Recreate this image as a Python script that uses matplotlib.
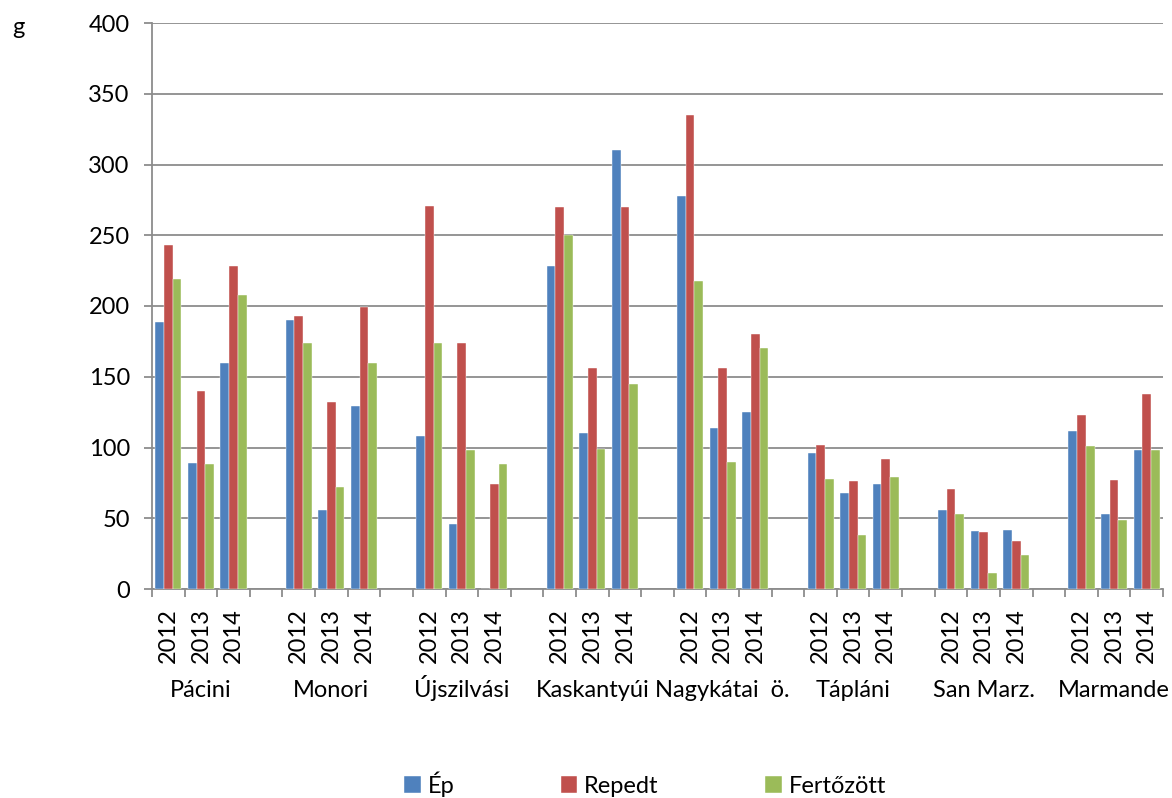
import matplotlib
matplotlib.use("Agg")
import matplotlib.pyplot as plt
from matplotlib.transforms import blended_transform_factory
import numpy as np

plt.rcParams['font.family'] = ['Lato', 'DejaVu Sans']

groups = ["Pácini", "Monori", "Újszilvási", "Kaskantyúi", "Nagykátai  ö.",
          "Tápláni", "San Marz.", "Marmande"]
years = ["2012", "2013", "2014"]
series_names = ["Ép", "Repedt", "Fertőzött"]
colors = ["#4F81BD", "#C0504D", "#9BBB59"]

ep = [189, 89, 160, 190, 56, 129, 108, 46, 0, 228, 110, 310,
      278, 114, 125, 96, 68, 74, 56, 41, 42, 112, 53, 98]
repedt = [243, 140, 228, 193, 132, 199, 271, 174, 74, 270, 156, 270,
          335, 156, 180, 102, 76, 92, 71, 40, 34, 123, 77, 138]
fertozott = [219, 88, 208, 174, 72, 160, 174, 98, 88, 250, 99, 145,
             218, 90, 170, 78, 38, 79, 53, 11, 24, 101, 49, 98]
series = [ep, repedt, fertozott]

FS = 17
W, H = 1172, 798
fig = plt.figure(figsize=(W / 100, H / 100), dpi=100)
ax = fig.add_axes([152 / W, 1 - 589 / H, (1163 - 152) / W, (589 - 23) / H])

ng, ny = len(groups), len(years)
pos = np.array([g * (ny + 1) + y for g in range(ng) for y in range(ny)], dtype=float)
nslots = ng * (ny + 1) - 1
bw = 0.8 / 3
for i, (vals, c, name) in enumerate(zip(series, colors, series_names)):
    ax.bar(pos + (i - 1) * bw, vals, width=bw, color=c, label=name,
           edgecolor='white', linewidth=0.3, zorder=3)

ax.set_xlim(-0.5, nslots - 0.5)
ax.set_ylim(0, 400)
ax.set_yticks(np.arange(0, 401, 50))
ax.yaxis.grid(True, color='#8c8c8c', linewidth=1.3, zorder=0)
ax.set_axisbelow(True)

gray = '#8c8c8c'
for s in ['top', 'right']:
    ax.spines[s].set_visible(False)
for s in ['left', 'bottom']:
    ax.spines[s].set_color(gray)
    ax.spines[s].set_linewidth(1.3)

ax.tick_params(axis='y', colors=gray, length=6, width=1.3, labelsize=FS,
               labelcolor='black', pad=10)
ax.set_xticks(pos)
ax.set_xticklabels([years[k % ny] for k in range(len(pos))], rotation=90,
                   fontsize=FS)
ax.tick_params(axis='x', length=0, pad=14)
ax.set_xticks(np.arange(-0.5, nslots, 1.0), minor=True)
ax.tick_params(axis='x', which='minor', length=6, width=1.3, colors=gray)

trans = blended_transform_factory(ax.transData, ax.transAxes)
for g, name in enumerate(groups):
    ax.text(g * (ny + 1) + 1, (589 - 697) / (589 - 23), name, transform=trans,
            ha='center', va='baseline', fontsize=FS)

fig.text(12 / W, 1 - 27 / H, "g", fontsize=FS, ha='left', va='center')

fig.legend(loc='center', bbox_to_anchor=(645 / W, 1 - 784 / H), ncol=3,
           frameon=False, fontsize=FS, handlelength=0.7, handleheight=0.7,
           handletextpad=0.3, columnspacing=4.5)

fig.savefig("out.png", dpi=100)
